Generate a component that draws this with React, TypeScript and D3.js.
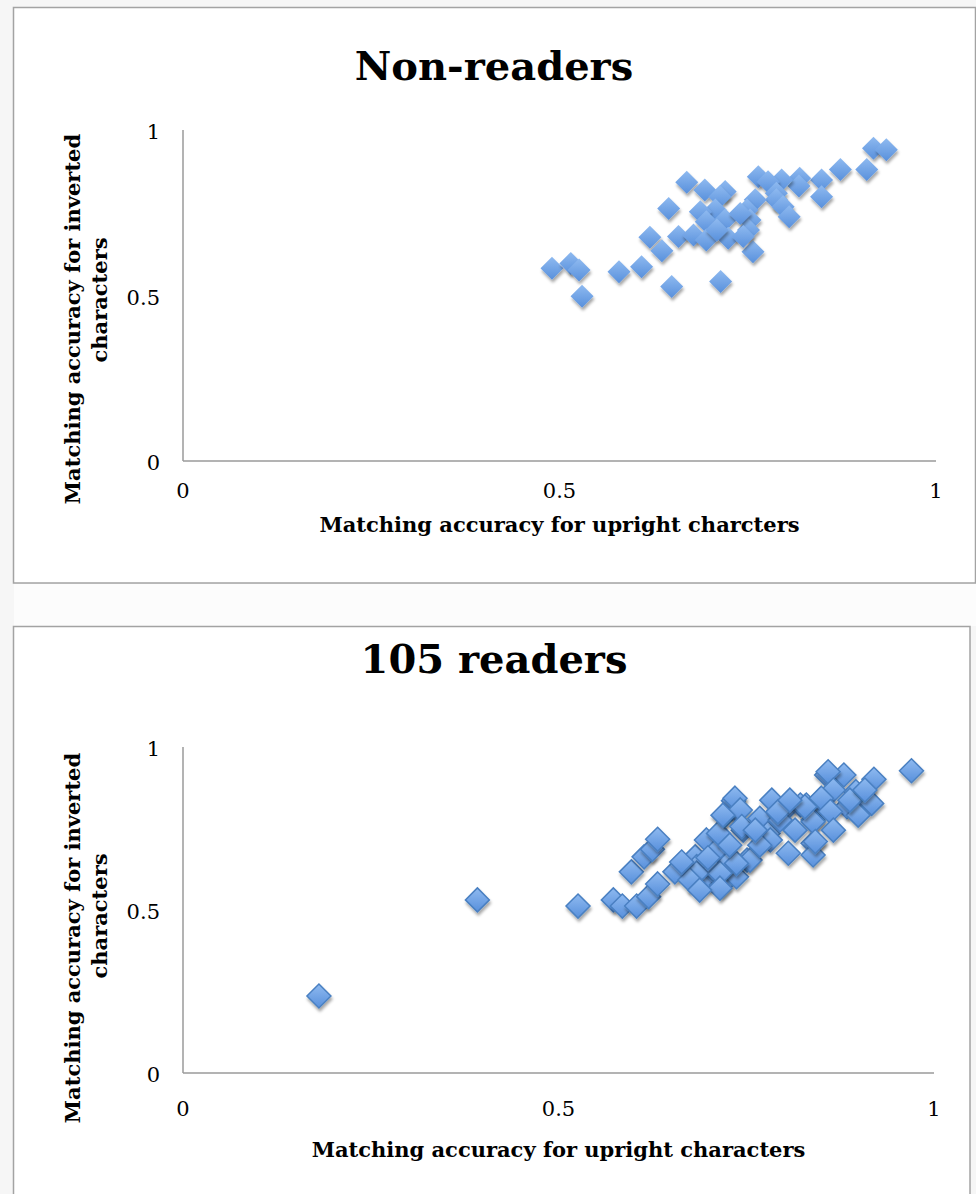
import React from "react";
import * as d3 from "d3";

// ---------- data ----------
const nonReadersX = [
  0.917, 0.934, 0.908, 0.873, 0.848, 0.848, 0.819, 0.818, 0.795, 0.764,
  0.777, 0.788, 0.788, 0.797, 0.805, 0.76, 0.749, 0.753, 0.751, 0.757,
  0.669, 0.693, 0.72, 0.713, 0.707, 0.687, 0.645, 0.695, 0.72, 0.74,
  0.658, 0.678, 0.695, 0.724, 0.744, 0.62, 0.636, 0.709, 0.649, 0.714,
  0.49, 0.515, 0.526, 0.53, 0.579, 0.609,
];
const nonReadersY = [
  0.945, 0.94, 0.881, 0.881, 0.849, 0.798, 0.854, 0.831, 0.849, 0.859,
  0.844, 0.809, 0.789, 0.768, 0.738, 0.789, 0.758, 0.728, 0.698, 0.632,
  0.842, 0.819, 0.814, 0.798, 0.758, 0.753, 0.763, 0.723, 0.728, 0.748,
  0.678, 0.683, 0.668, 0.673, 0.678, 0.676, 0.635, 0.698, 0.527, 0.542,
  0.582, 0.597, 0.577, 0.498, 0.572, 0.587,
];

const readersX = [
  0.181, 0.392, 0.526, 0.573, 0.585, 0.604, 0.62, 0.632, 0.597, 0.614,
  0.625, 0.632, 0.655, 0.682, 0.697, 0.711, 0.713, 0.722, 0.737, 0.733,
  0.695, 0.717, 0.737, 0.724, 0.684, 0.706, 0.746, 0.751, 0.735, 0.742,
  0.719, 0.744, 0.768, 0.784, 0.804, 0.822, 0.83, 0.839, 0.848, 0.857,
  0.779, 0.782, 0.795, 0.806, 0.839, 0.839, 0.755, 0.737, 0.684, 0.715,
  0.97, 0.92, 0.88, 0.859, 0.896, 0.917, 0.884, 0.866, 0.85, 0.899,
  0.862, 0.839, 0.866, 0.828, 0.842, 0.715, 0.675, 0.688, 0.664, 0.768,
  0.815, 0.888, 0.908, 0.762, 0.792, 0.728, 0.699, 0.808,
];
const readersY = [
  0.236, 0.531, 0.512, 0.531, 0.512, 0.512, 0.541, 0.58, 0.617, 0.663,
  0.686, 0.717, 0.617, 0.663, 0.715, 0.684, 0.735, 0.791, 0.807, 0.835,
  0.592, 0.577, 0.602, 0.638, 0.633, 0.623, 0.745, 0.653, 0.843, 0.807,
  0.791, 0.756, 0.781, 0.837, 0.812, 0.822, 0.822, 0.776, 0.837, 0.914,
  0.735, 0.715, 0.776, 0.674, 0.705, 0.669, 0.653, 0.643, 0.613, 0.613,
  0.927, 0.901, 0.914, 0.924, 0.863, 0.827, 0.817, 0.868, 0.843, 0.791,
  0.802, 0.771, 0.745, 0.817, 0.71, 0.567, 0.592, 0.561, 0.647, 0.699,
  0.745, 0.837, 0.868, 0.745, 0.801, 0.699, 0.66, 0.837,
];

const tickValues = [0, 0.5, 1];
const tickLabels = ["0", "0.5", "1"];

const FONT = "'DejaVu Serif', 'Liberation Serif', serif";

const diamondType = {
  draw(ctx: any, size: number) {
    const r = Math.sqrt(size) / 2;
    ctx.moveTo(0, -r);
    ctx.lineTo(r, 0);
    ctx.lineTo(0, r);
    ctx.lineTo(-r, 0);
    ctx.closePath();
  },
};

type PanelProps = {
  xs: number[];
  ys: number[];
  title: string;
  xTitle: string;
  frame: { x: number; y: number; w: number; h: number };
  xRange: [number, number];
  yRange: [number, number];
  titleY: number;
  xTickY: number;
  xTitleY: number;
  yTitleX: [number, number];
  yTitleY: [number, number];
  markerSize: number;
  stroked: boolean;
};

function Panel(p: PanelProps) {
  const x = d3.scaleLinear().domain([0, 1]).range(p.xRange);
  const y = d3.scaleLinear().domain([0, 1]).range(p.yRange);
  const sym = d3.symbol().type(diamondType as any).size(p.markerSize * p.markerSize)();
  const pts = p.xs.map((v, i) => ({ x: v, y: p.ys[i] }));
  const cx = (p.xRange[0] + p.xRange[1]) / 2;
  return (
    <g>
      <rect x={p.frame.x} y={p.frame.y} width={p.frame.w} height={p.frame.h}
        fill="#ffffff" stroke="#a3a3a3" strokeWidth={1.5} />
      <text x={494} y={p.titleY} textAnchor="middle" fontFamily={FONT}
        fontWeight="bold" fontSize={40} fill="#000">{p.title}</text>
      {/* axes */}
      <line x1={x(0)} x2={x(0)} y1={y(0)} y2={y(1)} stroke="#9a9a9a" strokeWidth={1.5} />
      <line x1={x(0)} x2={x(1)} y1={y(0)} y2={y(0)} stroke="#9a9a9a" strokeWidth={1.5} />
      {tickValues.map((t, i) => (
        <text key={"yt" + i} x={160} y={y(t) + 9} textAnchor="end" fontFamily={FONT}
          fontSize={21} fill="#000">{tickLabels[i]}</text>
      ))}
      {tickValues.map((t, i) => (
        <text key={"xt" + i} x={x(t)} y={p.xTickY} textAnchor="middle" fontFamily={FONT}
          fontSize={21} fill="#000">{tickLabels[i]}</text>
      ))}
      <text x={cx} y={p.xTitleY} textAnchor="middle" fontFamily={FONT} fontWeight="bold"
        fontSize={21} fill="#000">{p.xTitle}</text>
      <text transform={`translate(${p.yTitleX[0]},${p.yTitleY[0]}) rotate(-90)`} textAnchor="middle"
        fontFamily={FONT} fontWeight="bold" fontSize={21} fill="#000">
        Matching accuracy for inverted
      </text>
      <text transform={`translate(${p.yTitleX[1]},${p.yTitleY[1]}) rotate(-90)`} textAnchor="middle"
        fontFamily={FONT} fontWeight="bold" fontSize={21} fill="#000">
        characters
      </text>
      {pts.map((d, i) => (
        <path key={i} d={sym || ""} transform={`translate(${x(d.x)},${y(d.y)})`}
          fill="url(#diamondGrad)" stroke={p.stroked ? "#4a80c2" : "none"}
          strokeWidth={p.stroked ? 1.5 : 0} filter="url(#dshadow)" />
      ))}
    </g>
  );
}

export default function App() {
  return (
    <svg width={976} height={1194} style={{ position: "absolute", left: 0, top: 0, display: "block" }}>
      <defs>
        <linearGradient id="diamondGrad" x1="0" y1="0" x2="0" y2="1">
          <stop offset="0%" stopColor="#8fbaf0" />
          <stop offset="100%" stopColor="#5890dc" />
        </linearGradient>
        <filter id="dshadow" x="-50%" y="-50%" width="200%" height="200%">
          <feDropShadow dx={1} dy={3} stdDeviation={1.6} floodColor="#000" floodOpacity={0.35} />
        </filter>
      </defs>
      <rect x={0} y={0} width={976} height={1194} fill="#f6f6f6" />
      <rect x={14} y={584} width={962} height={42} fill="#fcfcfc" />
      <Panel
        xs={nonReadersX} ys={nonReadersY}
        title="Non-readers" xTitle="Matching accuracy for upright charcters"
        frame={{ x: 13.5, y: 7.5, w: 962, h: 575.5 }}
        xRange={[183, 936]} yRange={[461, 130]}
        titleY={80} xTickY={498} xTitleY={532}
        yTitleX={[80, 107]} yTitleY={[319, 300]}
        markerSize={23} stroked={false}
      />
      <Panel
        xs={readersX} ys={readersY}
        title="105 readers" xTitle="Matching accuracy for upright characters"
        frame={{ x: 13.5, y: 626.5, w: 956.5, h: 600 }}
        xRange={[183, 934]} yRange={[1073, 747]}
        titleY={673} xTickY={1116} xTitleY={1157}
        yTitleX={[80, 107]} yTitleY={[938, 916]}
        markerSize={24} stroked={true}
      />
    </svg>
  );
}
